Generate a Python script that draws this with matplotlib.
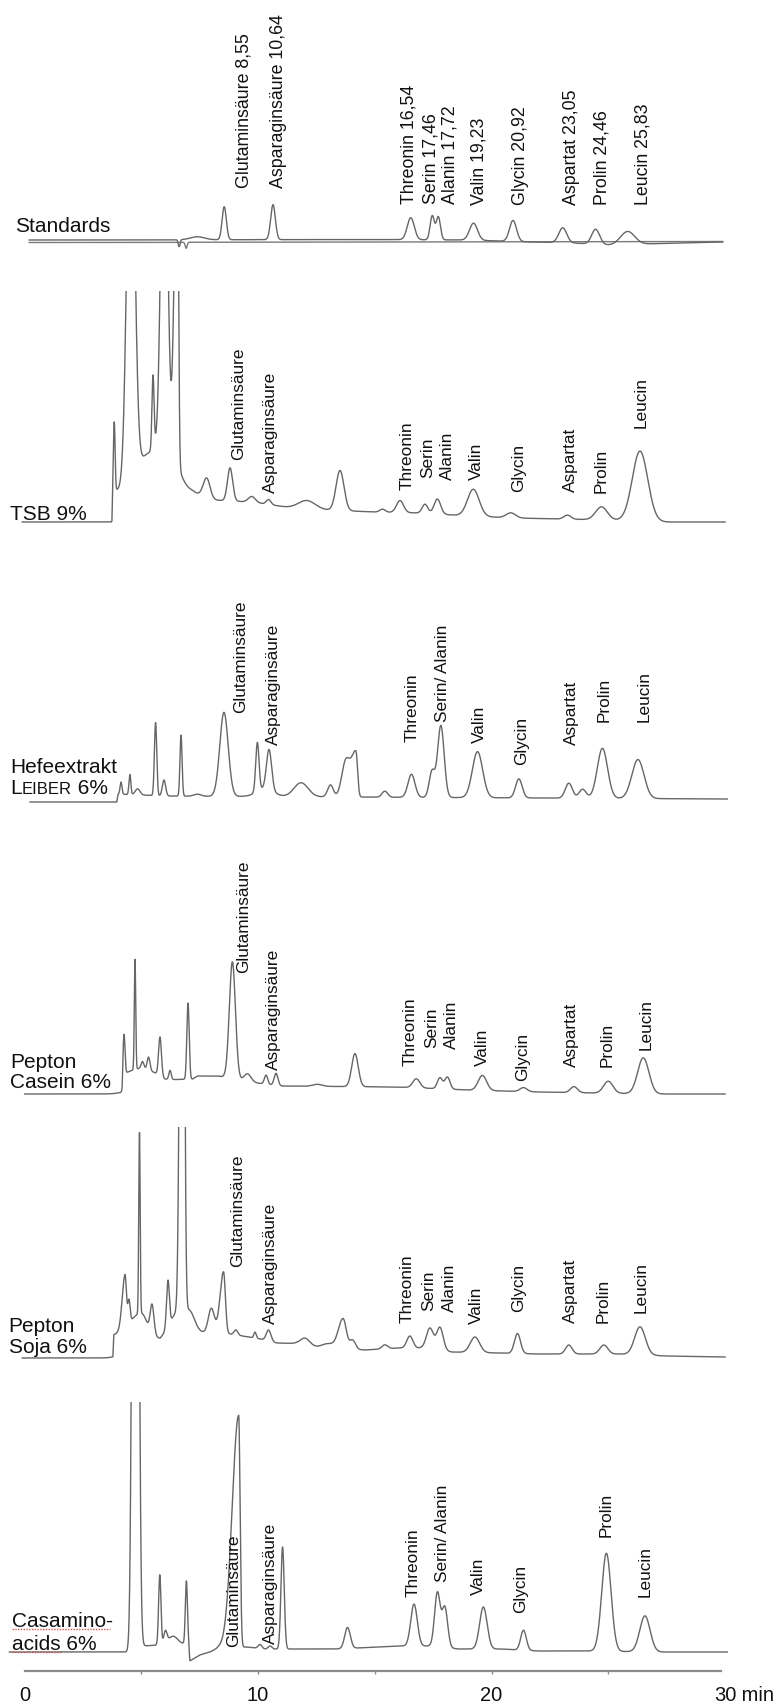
import numpy as np
import matplotlib
matplotlib.use("Agg")
import matplotlib.pyplot as plt

W, H = 779, 1708

# ---------------------------------------------------------------------------
# Peak tables: (retention time [min], height [signal units], sigma_left [min]
#               [, sigma_right [min]])  -- one table per chromatogram,
# plus baseline knots (time [min], level) describing the drift of each run.
# ---------------------------------------------------------------------------

# Amino-acid standard mix
STD_NAMES = ["Glutaminsäure", "Asparaginsäure", "Threonin", "Serin", "Alanin",
             "Valin", "Glycin", "Aspartat", "Prolin", "Leucin"]
STD_RT = [8.55, 10.64, 16.54, 17.46, 17.72, 19.23, 20.92, 23.05, 24.46, 25.83]
STD_HEIGHT = [33, 35, 22, 24, 23, 17, 21, 15, 15, 13]
STD_SIGMA = [0.09, 0.10, 0.15, 0.09, 0.09, 0.17, 0.15, 0.17, 0.17, 0.30]
STD_EXTRA = [(6.62, -7, 0.04), (7.40, 3, 0.30)]
STD_BASE = [(0.2, 1), (15, 1.5), (19, 1), (21, -0.5), (23.5, -2), (25, -4),
            (26.5, -3), (28, -2), (29.9, -1)]
BLANK_PEAKS = [(6.92, -6, 0.04)]
BLANK_BASE = [(0.2, -1.5), (29.9, -0.5)]

TSB_PEAKS = [
    (3.84, 68, 0.035), (4.55, 416, 0.166), (5.10, 25, 0.30), (5.50, 73, 0.045),
    (5.98, 400, 0.13), (6.00, 60, 0.45), (6.54, 350, 0.12, 0.05),
    (7.80, 20, 0.15), (8.80, 33, 0.11), (9.73, 6, 0.15), (10.45, 5, 0.10),
    (12.09, 8, 0.35), (13.51, 40, 0.17), (15.33, 3, 0.12), (16.08, 12, 0.15),
    (17.15, 9, 0.12), (17.68, 15, 0.14), (19.22, 27, 0.25), (20.83, 5, 0.20),
    (23.25, 4, 0.15), (24.71, 13, 0.25), (26.36, 70, 0.33),
]
TSB_BASE = [(-0.1, 0), (3.74, 0), (3.78, 32), (7.2, 30), (8.0, 22), (9.0, 21),
            (10.0, 19), (11.2, 15), (13, 12), (15, 10), (17, 9), (19, 6),
            (21, 4), (23, 3), (25, 2), (27.5, 0), (30, 0)]

HEFE_PEAKS = [
    (4.13, 12, 0.04), (4.51, 20, 0.04), (4.84, 6, 0.10), (5.61, 73, 0.05),
    (5.97, 16, 0.07), (6.70, 61, 0.045), (7.40, 2, 0.15), (8.54, 84, 0.18),
    (9.97, 49, 0.07), (10.30, 8, 0.35), (10.47, 40, 0.11), (11.84, 14, 0.30),
    (13.10, 12, 0.12), (13.75, 34, 0.17), (14.19, 45, 0.20, 0.07),
    (15.43, 6, 0.12), (16.57, 23, 0.15), (17.45, 26, 0.12), (17.83, 72, 0.14),
    (19.40, 46, 0.22), (21.17, 19, 0.14), (23.31, 15, 0.15), (23.90, 9, 0.15),
    (24.75, 50, 0.22), (26.27, 39, 0.26),
]
HEFE_BASE = [(0.23, 0), (3.95, 0), (4.0, 8), (6.0, 6), (30.1, 3)]

CASEIN_PEAKS = [
    (4.26, 39, 0.04), (4.73, 110, 0.03), (5.00, 8, 0.50), (5.05, 7, 0.06),
    (5.31, 13, 0.06), (5.80, 38, 0.06), (6.23, 9, 0.05), (7.00, 76, 0.05),
    (8.90, 117, 0.13), (9.55, 8, 0.15), (10.34, 9, 0.07), (10.77, 12, 0.08),
    (12.54, 2, 0.20), (14.15, 33, 0.14), (16.78, 9, 0.15), (17.79, 11, 0.11),
    (18.11, 12, 0.11), (19.61, 15, 0.18), (21.37, 4, 0.15), (23.53, 6, 0.15),
    (25.00, 12, 0.20), (26.50, 36, 0.24),
]
CASEIN_BASE = [(0, 0), (4.18, 0), (4.22, 18), (5.8, 17), (6.0, 14), (7.2, 15),
               (7.4, 18), (8.3, 18), (9.6, 12), (11.0, 8), (16, 7), (19, 4),
               (22, 2), (27, 0), (30, 0)]

SOJA_PEAKS = [
    (4.30, 53, 0.12, 0.06), (4.47, 23, 0.05), (4.92, 181, 0.03),
    (5.00, 24, 0.50, 0.25), (5.46, 29, 0.08), (6.14, 46, 0.06),
    (6.60, 20, 0.40), (6.76, 900, 0.09, 0.07), (7.10, 13, 0.20),
    (8.00, 25, 0.13), (8.52, 62, 0.15, 0.08), (9.05, 5, 0.08),
    (9.87, 6, 0.05), (10.45, 11, 0.10), (12.01, 7, 0.20), (13.00, 4, 0.25),
    (13.64, 30, 0.20, 0.14), (14.05, 9, 0.12), (15.43, 4, 0.12),
    (16.50, 12, 0.13), (17.36, 21, 0.15), (17.79, 23, 0.14),
    (19.29, 15.5, 0.20), (21.11, 20, 0.13), (23.31, 9, 0.14),
    (24.81, 9, 0.17), (26.36, 28, 0.23),
]
SOJA_BASE = [(-0.1, 0), (3.78, 0), (3.82, 22), (5.6, 20), (5.8, 17), (6.4, 25),
             (7.6, 25), (8.8, 24), (9.6, 21), (10.1, 19), (10.8, 15),
             (11.6, 14.5), (12.5, 11), (14.6, 8), (16.0, 10), (17.0, 10),
             (18.3, 6), (20.3, 5), (22, 4), (25.5, 4), (27.5, 2), (30, 1)]

CASA_PEAKS = [
    (4.75, 1500, 0.10), (5.79, 70, 0.05), (6.03, 12, 0.07), (6.35, 8, 0.20),
    (6.93, 63, 0.045), (9.17, 232, 0.28, 0.06), (10.08, 4, 0.08),
    (10.51, 3, 0.08), (11.05, 102, 0.07), (13.83, 21, 0.12), (16.68, 42, 0.14),
    (17.68, 54, 0.12), (18.00, 40, 0.12), (19.65, 42, 0.16), (21.37, 20, 0.12),
    (24.92, 98, 0.20), (26.57, 36, 0.22),
]
CASA_BASE = [(-0.65, 0), (4.4, 0), (5.05, 6), (6.5, 8), (7.02, 8), (7.08, -9),
             (7.5, -3), (7.94, 0), (8.3, 4), (9.5, 5), (10.3, 3), (13.3, 3),
             (16.1, 6), (17.3, 6), (18.6, 3), (20.4, 3), (22, 1), (24.2, 1),
             (27, 0), (30.1, 0)]

# Peak annotations of the sample runs
SAMPLE_NAMES = ["Glutaminsäure", "Asparaginsäure", "Threonin", "Serin", "Alanin",
                "Valin", "Glycin", "Aspartat", "Prolin", "Leucin"]
MERGED_NAMES = ["Glutaminsäure", "Asparaginsäure", "Threonin", "Serin/ Alanin",
                "Valin", "Glycin", "Aspartat", "Prolin", "Leucin"]
CASA_NAMES = ["Glutaminsäure", "Asparaginsäure", "Threonin", "Serin/ Alanin",
              "Valin", "Glycin", "Prolin", "Leucin"]

# ---------------------------------------------------------------------------
# Layout (pixels of the 779 x 1708 canvas, label anchors in min / signal units)
# ---------------------------------------------------------------------------
X0 = 24.6                       # pixel column of t = 0
PX_PER_MIN = (725.0 - X0) / 30  # horizontal scale
T_LO, T_HI = -1.05, 30.6
AXIS_Y = 1672

LINE = "#666666"
INK = "#111111"
FONT = "Liberation Sans"

fig = plt.figure(figsize=(W / 100, H / 100), dpi=100)


def panel(y_top, y_bot, y_base):
    left = (X0 + T_LO * PX_PER_MIN) / W
    width = (T_HI - T_LO) * PX_PER_MIN / W
    ax = fig.add_axes([left, 1 - y_bot / H, width, (y_bot - y_top) / H])
    ax.set_xlim(T_LO, T_HI)
    ax.set_ylim(-(y_bot - y_base), y_base - y_top)
    ax.axis("off")
    return ax


def chromatogram(t, peaks, base):
    bt, bv = zip(*base)
    y = np.interp(t, bt, bv)
    for p in peaks:
        rt, h, sl = p[:3]
        sr = p[3] if len(p) > 3 else sl
        s = np.where(t < rt, sl, sr)
        y = y + h * np.exp(-0.5 * ((t - rt) / s) ** 2)
    return y


def trace(ax, peaks, base, lw=1.0, color=LINE):
    t = np.linspace(base[0][0], base[-1][0], 9000)
    ax.plot(t, chromatogram(t, peaks, base), color=color, lw=lw,
            solid_joinstyle="round")


def peak_labels(ax, names, pos, size=12.4):
    for name, (t, s) in zip(names, pos):
        ax.text(t, s, name, rotation=90, ha="center", va="bottom",
                fontsize=size, family=FONT, color=INK, clip_on=False)


def side_label(ax, lines, t=-0.63, size=15):
    for txt, s in lines:
        ax.text(t, s, txt, ha="left", va="center", fontsize=size,
                family=FONT, color=INK, clip_on=False)


# --- Standards -------------------------------------------------------------
ax = panel(130, 262, 242)
std_peaks = STD_EXTRA + list(zip(STD_RT, STD_HEIGHT, STD_SIGMA))
trace(ax, BLANK_PEAKS, BLANK_BASE, color="#7a7a7a")
trace(ax, std_peaks, STD_BASE)
std_labels = [f"{n} {rt:.2f}".replace(".", ",") for n, rt in zip(STD_NAMES, STD_RT)]
peak_labels(ax, std_labels,
            [(9.40, 54), (10.89, 54), (16.46, 38), (17.40, 38), (18.22, 38),
             (19.46, 37), (21.26, 37), (23.44, 37), (24.73, 37), (26.48, 37)],
            size=12.8)
side_label(ax, [("Standards", 16)], t=-0.42)

# --- TSB 9 % ---------------------------------------------------------------
ax = panel(292, 540, 523)
trace(ax, TSB_PEAKS, TSB_BASE)
peak_labels(ax, SAMPLE_NAMES,
            [(9.18, 63), (10.51, 30), (16.38, 33), (17.28, 45), (18.13, 43),
             (19.37, 43), (21.17, 31), (23.36, 31), (24.69, 30), (26.40, 95)])
side_label(ax, [("TSB 9%", 9)])

# --- Hefeextrakt Leiber 6 % --------------------------------------------------
ax = panel(600, 815, 803)
trace(ax, HEFE_PEAKS, HEFE_BASE)
peak_labels(ax, MERGED_NAMES,
            [(9.27, 90), (10.68, 58), (16.59, 61), (17.92, 81), (19.50, 60),
             (21.30, 38), (23.44, 58), (24.81, 81), (26.53, 81)])
side_label(ax, [("Hefeextrakt", 35)])
# small-caps company name
t0 = ax.text(-0.63, 8.5, "L", ha="left", va="baseline", fontsize=15,
             family=FONT, color=INK, clip_on=False)
t1 = ax.annotate("EIBER", xy=(1, 8.5), xycoords=(t0, ax.transData),
                 ha="left", va="baseline", fontsize=12, family=FONT,
                 color=INK, annotation_clip=False)
ax.annotate(" 6%", xy=(1, 8.5), xycoords=(t1, ax.transData),
            ha="left", va="baseline", fontsize=15, family=FONT,
            color=INK, annotation_clip=False)

# --- Pepton Casein 6 % -------------------------------------------------------
ax = panel(900, 1105, 1095)
trace(ax, CASEIN_PEAKS, CASEIN_BASE)
peak_labels(ax, SAMPLE_NAMES,
            [(9.40, 122), (10.68, 25), (16.50, 29), (17.45, 47), (18.30, 46),
             (19.59, 29), (21.35, 14), (23.44, 28), (24.94, 28), (26.61, 45)])
side_label(ax, [("Pepton", 33), ("Casein 6%", 12)])

# --- Pepton Soja 6 % ---------------------------------------------------------
ax = panel(1128, 1370, 1359)
trace(ax, SOJA_PEAKS, SOJA_BASE)
peak_labels(ax, SAMPLE_NAMES,
            [(9.14, 92), (10.51, 35), (16.38, 36), (17.32, 48), (18.18, 47),
             (19.37, 35), (21.17, 47), (23.40, 36), (24.77, 36), (26.40, 46)])
side_label(ax, [("Pepton", 32), ("Soja 6%", 11)], t=-0.68)

# --- Casamino acids 6 % ------------------------------------------------------
ax = panel(1403, 1668, 1653)
trace(ax, CASA_PEAKS, CASA_BASE)
peak_labels(ax, CASA_NAMES,
            [(8.97, 6), (10.55, 9), (16.63, 56), (17.92, 71), (19.42, 58),
             (21.26, 40), (24.90, 116), (26.57, 56)])
side_label(ax, [("Casamino-", 31), ("acids 6%", 8)], t=-0.55)
# spell-check underline under the sample name
ax.plot([-0.54, 3.65], [23.5, 23.5], color="#d9534f", lw=1.0,
        ls=(0, (1, 1)), clip_on=False)
ax.plot([-0.54, 1.62], [0.5, 0.5], color="#d9534f", lw=1.0,
        ls=(0, (1, 1)), clip_on=False)

# --- time axis -------------------------------------------------------------
axt = fig.add_axes([X0 / W, 1 - AXIS_Y / H, 30 * PX_PER_MIN / W, 0.01])
axt.patch.set_visible(False)
axt.set_xlim(0, 30)
axt.set_yticks([])
for side in ("left", "right", "top"):
    axt.spines[side].set_visible(False)
axt.spines["bottom"].set_color("#8a8a8a")
axt.spines["bottom"].set_linewidth(1.6)
axt.spines["bottom"].set_bounds(0, 29.85)
axt.xaxis.remove_overlapping_locs = False
axt.set_xticks([0, 10, 20, 30])
axt.set_xticklabels(["0", "10", "20", "30"])
axt.set_xticks([5, 10, 15, 20, 25], minor=True)
axt.tick_params(axis="x", which="major", length=0, pad=10, labelsize=14.5,
                labelcolor=INK)
axt.tick_params(axis="x", which="minor", length=2.5, width=1.0,
                color="#8a8a8a", direction="out")
for lab in axt.get_xticklabels():
    lab.set_family(FONT)
axt.annotate(" min", xy=(30, 0), xycoords=("data", "axes fraction"),
             xytext=(8.1, -10), textcoords="offset points", ha="left",
             va="top", fontsize=14.5, family=FONT, color=INK,
             annotation_clip=False)

fig.savefig("out.png", dpi=100)
